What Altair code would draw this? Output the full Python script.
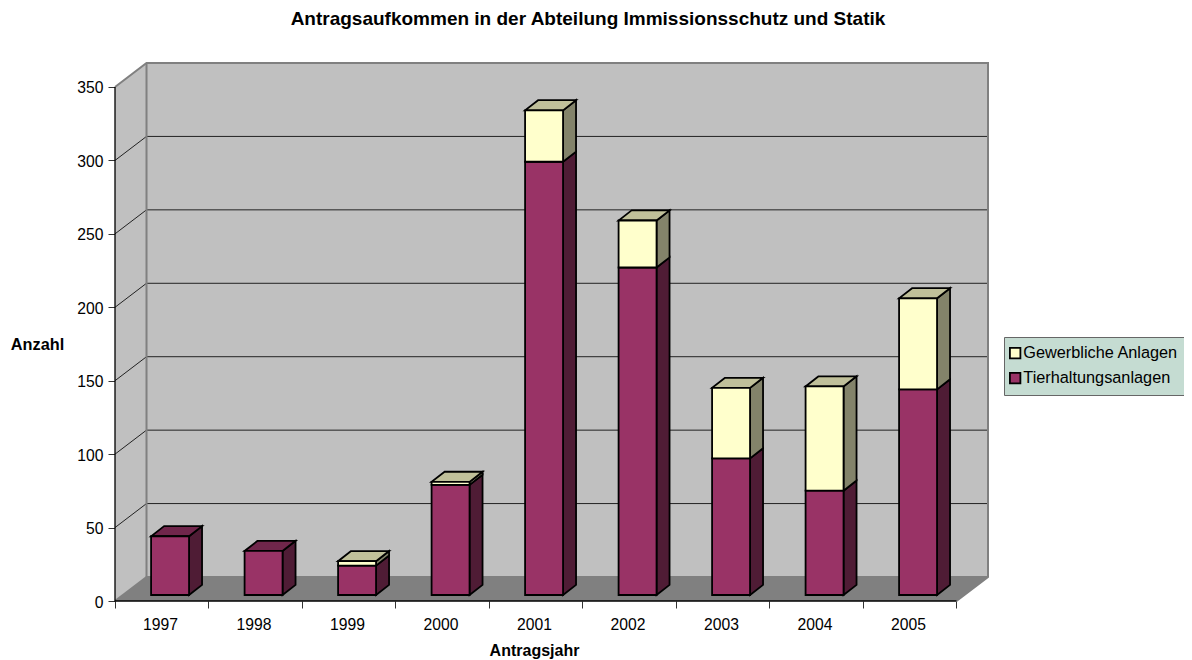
import altair as alt
import pandas as pd

years = [1997, 1998, 1999, 2000, 2001, 2002, 2003, 2004, 2005]
tierhaltung = [40, 30, 20, 75, 295, 223, 93, 71, 140]
gewerblich = [0, 0, 3, 2, 35, 32, 48, 71, 62]
y_ticks = [0, 50, 100, 150, 200, 250, 300, 350]
series_names = ["Gewerbliche Anlagen", "Tierhaltungsanlagen"]
front_colors = {"Gewerbliche Anlagen": "#FFFFCC", "Tierhaltungsanlagen": "#993366"}
side_colors = {"Gewerbliche Anlagen": "#83836A", "Tierhaltungsanlagen": "#4F1C35"}
top_colors = {"Gewerbliche Anlagen": "#C0C09A", "Tierhaltungsanlagen": "#70264B"}

FONT = "Liberation Sans"
# projection of the 3D look, in data units
X0, X1 = 1996.5, 2005.5
WALL_DX, WALL_DY = 0.337, 16.34
BAR_OFF, BAR_HALF, BAR_DX, BAR_DY, BAR_BASE = 0.089, 0.203, 0.139, 6.9, 4.1
X_DOM = [X0, X1 + WALL_DX]
Y_DOM = [0, 350 + WALL_DY]
PW, PH = 873, 538

xs = alt.Scale(domain=X_DOM, nice=False, zero=False)
ys = alt.Scale(domain=Y_DOM, nice=False, zero=False)
x_axis = alt.Axis(values=[X0 + i for i in range(10)], grid=False, domain=False,
                  labelExpr="datum.value < 2005 ? format(datum.value + 0.5, 'd') : ''",
                  labelOffset=45, labelFont=FONT, labelFontSize=15.7, labelColor="black",
                  labelPadding=9, labelFlush=False, labelOverlap=False, tickColor="#333333", tickSize=7,
                  titleFont=FONT, titleFontSize=16, titleFontWeight="bold", titleColor="black",
                  titleX=419, titleY=49, titleAlign="center", titleBaseline="middle")
y_axis = alt.Axis(values=y_ticks, grid=False, domain=False, labelFont=FONT, labelFontSize=15.7,
                  labelColor="black", labelPadding=5, labelOffset=1, tickColor="#333333", tickSize=7,
                  titleFont=FONT, titleFontSize=16.3, titleFontWeight="bold", titleColor="black",
                  titleAngle=0, titleX=-78, titleY=281, titleAlign="center", titleBaseline="middle")
X = lambda f="x": alt.X(f"{f}:Q", scale=xs, axis=x_axis, title="Antragsjahr")
Y = lambda f="y": alt.Y(f"{f}:Q", scale=ys, axis=y_axis, title="Anzahl")

# walls
back = pd.DataFrame([dict(x=X0 + WALL_DX, x2=X1 + WALL_DX, y=WALL_DY, y2=350 + WALL_DY)])
side_wall = pd.DataFrame([
    dict(x=X0, y=0, y2=350),
    dict(x=X0 + WALL_DX, y=WALL_DY, y2=350 + WALL_DY),
])
floor = pd.DataFrame([
    dict(y=0, x=X0, x2=X1),
    dict(y=WALL_DY, x=X0 + WALL_DX, x2=X1 + WALL_DX),
])

grid_rows = []
for v in y_ticks[1:-1]:
    grid_rows += [dict(id=v, x=X0, y=v), dict(id=v, x=X0 + WALL_DX, y=v + WALL_DY),
                  dict(id=v, x=X1 + WALL_DX, y=v + WALL_DY)]
grid = pd.DataFrame(grid_rows)

wall_edges = pd.DataFrame([
    dict(id="a", o=0, x=X0, y=350), dict(id="a", o=1, x=X0 + WALL_DX, y=350 + WALL_DY),
    dict(id="a", o=2, x=X1 + WALL_DX, y=350 + WALL_DY), dict(id="a", o=3, x=X1 + WALL_DX, y=WALL_DY),
    dict(id="a", o=4, x=X1, y=0),
    dict(id="b", o=0, x=X0 + WALL_DX, y=350 + WALL_DY), dict(id="b", o=1, x=X0 + WALL_DX, y=WALL_DY),
    dict(id="b", o=2, x=X1 + WALL_DX, y=WALL_DY),
    dict(id="c", o=0, x=X0, y=0), dict(id="c", o=1, x=X0 + WALL_DX, y=WALL_DY),
])
axis_lines = pd.DataFrame([
    dict(id="y", o=0, x=X0, y=350), dict(id="y", o=1, x=X0, y=0), dict(id="y", o=2, x=X1, y=0),
])

# bars
fronts, sides, tops = [], [], []
for yr, t, g in zip(years, tierhaltung, gewerblich):
    xl = yr + BAR_OFF - BAR_HALF
    xr = yr + BAR_OFF + BAR_HALF
    segs = [(series_names[1], 0, t)]
    if g > 0:
        segs.append((series_names[0], t, t + g))
    for s, a, b in segs:
        v0, v1 = a + BAR_BASE, b + BAR_BASE
        fronts.append(dict(x=xl, x2=xr, y=v0, y2=v1, series=s))
        sid = f"{yr}-{s}"
        sides.append(dict(id=sid, x=xr, y=v0, y2=v1, fill=side_colors[s]))
        sides.append(dict(id=sid, x=xr + BAR_DX, y=v0 + BAR_DY, y2=v1 + BAR_DY, fill=side_colors[s]))
    s, a, b = segs[-1]
    v1 = b + BAR_BASE
    tops.append(dict(id=str(yr), y=v1, x=xl, x2=xr, fill=top_colors[s]))
    tops.append(dict(id=str(yr), y=v1 + BAR_DY, x=xl + BAR_DX, x2=xr + BAR_DX, fill=top_colors[s]))

base = alt.Chart(back).mark_rect(fill="#C0C0C0", stroke=None).encode(
    x=X(), x2="x2:Q", y=Y(), y2="y2:Q")
side_layer = alt.Chart(side_wall).mark_area(fill="#C0C0C0", orient="vertical").encode(
    x=X(), y=Y(), y2="y2:Q")
floor_layer = alt.Chart(floor).mark_area(fill="#808080", orient="horizontal").encode(
    x=X(), x2="x2:Q", y=Y())
grid_layer = alt.Chart(grid).mark_line(color="#222222", strokeWidth=1).encode(
    x=X(), y=Y(), detail="id:N", order="x:Q")
edge_layer = alt.Chart(wall_edges).mark_line(color="#808080", strokeWidth=2).encode(
    x=X(), y=Y(), detail="id:N", order="o:Q")
axis_layer = alt.Chart(axis_lines).mark_line(color="black", strokeWidth=1.3).encode(
    x=X(), y=Y(), detail="id:N", order="o:Q")

bar_side = alt.Chart(pd.DataFrame(sides)).mark_area(stroke="black", strokeWidth=1.8, orient="vertical").encode(
    x=X(), y=Y(), y2="y2:Q", detail="id:N", fill=alt.Fill("fill:N", scale=None))
bar_top = alt.Chart(pd.DataFrame(tops)).mark_area(stroke="black", strokeWidth=1.8, orient="horizontal").encode(
    x=X(), x2="x2:Q", y=Y(), detail="id:N", fill=alt.Fill("fill:N", scale=None))
bar_front = alt.Chart(pd.DataFrame(fronts)).mark_rect(stroke="black", strokeWidth=1.8).encode(
    x=X(), x2="x2:Q", y=Y(), y2="y2:Q",
    fill=alt.Fill("series:N",
                  scale=alt.Scale(domain=series_names, range=[front_colors[n] for n in series_names]),
                  sort=series_names,
                  legend=alt.Legend(title=None, orient="none", legendX=889, legendY=274,
                                    fillColor="#C5DCD2", strokeColor="#666666", padding=8,
                                    labelFont=FONT, labelFontSize=16.3, labelColor="black",
                                    labelOffset=0, symbolOffset=-5, rowPadding=7, symbolType="square", symbolSize=110,
                                    symbolStrokeColor="black", symbolStrokeWidth=1.8,
                                    symbolOpacity=1, labelLimit=300)),
)

chart = alt.layer(
    base, side_layer, floor_layer, grid_layer, edge_layer, axis_layer, bar_side, bar_top, bar_front
).properties(
    width=PW, height=PH,
    autosize=alt.AutoSizeParams(type="none"),
    padding={"left": 107, "top": 55, "right": 196, "bottom": 59},
    title=alt.Title("Antragsaufkommen in der Abteilung Immissionsschutz und Statik",
                    font=FONT, fontSize=19, fontWeight="bold", color="black",
                    anchor="middle", dx=36.5, offset=30),
).configure_view(stroke=None)

chart.save("out.html", embed_options={"renderer": "svg", "actions": False})
